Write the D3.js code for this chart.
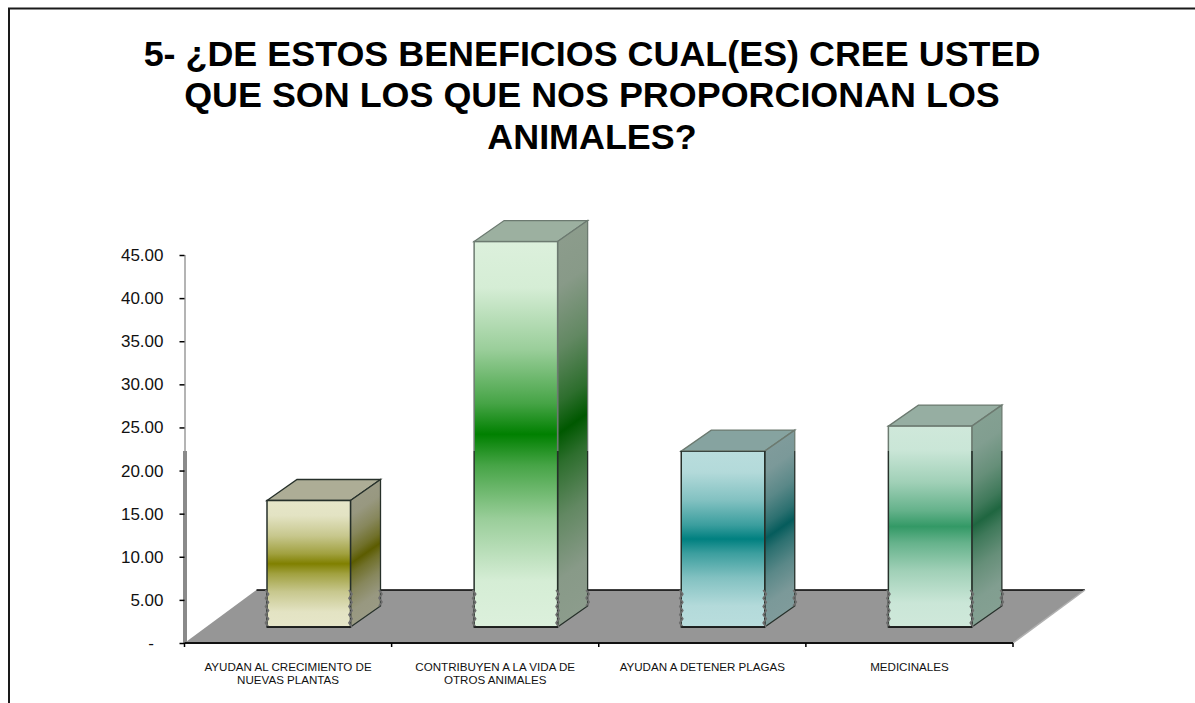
<!DOCTYPE html>
<html>
<head>
<meta charset="utf-8">
<script src="https://cdn.jsdelivr.net/npm/d3@7/dist/d3.min.js"></script>
<style>
html,body{margin:0;padding:0;background:#fff}
svg{display:block;font-family:"Liberation Sans",Arial,sans-serif}
</style>
</head>
<body>
<svg id="chart" width="1195" height="703"></svg>
<script>
// Survey results
const titleLines = [
  "5- ¿DE ESTOS BENEFICIOS CUAL(ES) CREE USTED",
  "QUE SON LOS QUE NOS PROPORCIONAN LOS",
  "ANIMALES?"
];
const categories = [
  ["AYUDAN AL CRECIMIENTO DE", "NUEVAS PLANTAS"],
  ["CONTRIBUYEN A LA VIDA DE", "OTROS ANIMALES"],
  ["AYUDAN A DETENER PLAGAS"],
  ["MEDICINALES"]
];
const percentages = [14.67, 44.7, 20.4, 23.3];
const yTicks = [0, 5, 10, 15, 20, 25, 30, 35, 40, 45];

// Face colours per bar
const frontEnds = ["#e6e6c9", "#dcf0dc", "#b9dddd", "#cfe8da"];
const frontMids = ["#808000", "#008000", "#008080", "#339966"];
const sideEnds  = ["#9a9a84", "#8c9c8c", "#7f9b9b", "#84a092"];
const sideMids  = ["#5c5c00", "#005800", "#055c5c", "#1f6640"];
const topFaces  = ["#adad96", "#9cb0a0", "#86a3a0", "#96aea2"];

const svg = d3.select("#chart");
const defs = svg.append("defs");

const axisLeftX = 184.5, axisRightX = 1013;
const zeroY = 643, topY = 255;
const floorDX = 72, floorDY = 53;
const barDX = 30, barDY = 21, barW = 83.5, barInset = 82.5, barLift = 16;
const seamY = 451;

const x = d3.scaleBand().domain(d3.range(categories.length)).range([axisLeftX, axisRightX]);
const y = d3.scaleLinear().domain([0, 45]).range([zeroY, topY]);

// Frame: left and top rules only
svg.append("path").attr("d", "M9,703V8.5H1195").attr("fill", "none")
  .attr("stroke", "#1a1a1a").attr("stroke-width", 2);

// Title
svg.append("g").selectAll("text").data(titleLines).join("text")
  .attr("x", 592)
  .attr("y", (d, i) => 66 + i * 41.3)
  .attr("text-anchor", "middle")
  .attr("font-size", 35.9)
  .attr("font-weight", "bold")
  .attr("fill", "#000")
  .text(d => d);

// Wall edge, lighter above the seam and heavier below it
svg.append("rect").attr("x", axisLeftX - 0.5).attr("y", topY).attr("width", 2)
  .attr("height", seamY - topY).attr("fill", "#b4b4b4");
svg.append("rect").attr("x", axisLeftX - 1.5).attr("y", seamY).attr("width", 4)
  .attr("height", zeroY - seamY).attr("fill", "#8a8a8a");

// Floor
const floorBack = zeroY - floorDY;
svg.append("path")
  .attr("d", d3.line()([
    [axisLeftX, zeroY], [axisRightX, zeroY],
    [axisRightX + floorDX, floorBack], [axisLeftX + floorDX, floorBack]
  ]) + "Z")
  .attr("fill", "#969696");
svg.append("line").attr("x1", axisLeftX + floorDX).attr("x2", axisRightX + floorDX)
  .attr("y1", floorBack).attr("y2", floorBack).attr("stroke", "#000").attr("stroke-width", 1.5);
svg.append("line").attr("x1", axisRightX).attr("x2", axisRightX + floorDX)
  .attr("y1", zeroY).attr("y2", floorBack).attr("stroke", "#b0b0b0").attr("stroke-width", 1.5);

// Axes; zero prints as a dash set further left, as an accounting format does
const yAxis = d3.axisLeft(y).tickValues(yTicks).tickSize(5).tickPadding(16)
  .tickFormat(d => d === 0 ? "-" : d3.format(".2f")(d));
const gy = svg.append("g").attr("transform", `translate(${axisLeftX},0)`).call(yAxis);
gy.select(".domain").remove();
gy.selectAll(".tick line").attr("stroke", "#000").attr("stroke-width", 1.5);
gy.selectAll("text").attr("font-size", 17).attr("font-family", "'Liberation Sans',Arial,sans-serif")
  .attr("fill", "#111");
gy.selectAll(".tick").filter(d => d === 0).select("text").attr("x", -30.5);

const boundaries = x.domain().map(i => x(i)).concat(axisRightX);
svg.append("line").attr("x1", axisLeftX).attr("x2", axisRightX).attr("y1", zeroY).attr("y2", zeroY)
  .attr("stroke", "#111").attr("stroke-width", 2);
svg.append("g").selectAll("line").data(boundaries).join("line")
  .attr("x1", d => d).attr("x2", d => d)
  .attr("y1", zeroY).attr("y2", zeroY + 4)
  .attr("stroke", "#000").attr("stroke-width", 1.5);

// Category labels
const labels = svg.append("g").selectAll("text").data(categories).join("text")
  .attr("text-anchor", "middle").attr("font-size", 11.6).attr("fill", "#111");
labels.each(function (lines, i) {
  d3.select(this).selectAll("tspan").data(lines).join("tspan")
    .attr("x", x(i) + x.bandwidth() / 2)
    .attr("y", (d, j) => 671 + j * 12.7)
    .text(d => d);
});

// Gradient shared by bar faces: light ends, saturated middle
function addStops(g, light, mid) {
  const mix = d3.interpolateRgb(light, mid);
  [[0, 0], [0.12, 0.03], [0.28, 0.3], [0.42, 0.68], [0.5, 1],
   [0.58, 0.68], [0.72, 0.3], [0.88, 0.03], [1, 0]].forEach(([o, t]) => {
    g.append("stop").attr("offset", o).attr("stop-color", mix(t));
  });
}

// Outline colour changes at the seam
const edge = defs.append("linearGradient").attr("id", "edge")
  .attr("gradientUnits", "userSpaceOnUse")
  .attr("x1", 0).attr("x2", 0).attr("y1", 0).attr("y2", 703);
[[0, "#6c7a70"], [seamY / 703, "#6c7a70"], [seamY / 703, "#26302a"], [1, "#26302a"]]
  .forEach(([o, c]) => edge.append("stop").attr("offset", o).attr("stop-color", c));

// Short zigzag along a vertical edge where it meets the floor
function zigzag(px, y0, y1) {
  const n = Math.round((y1 - y0) / 4);
  return d3.line()(d3.range(n + 1).map(k => [px + (k % 2 ? 1.5 : -1.5), y0 + k * (y1 - y0) / n]));
}

const bars = svg.append("g").selectAll("g").data(percentages).join("g");
bars.each(function (v, i) {
  const g = d3.select(this);
  const x0 = x(i) + barInset, x1 = x0 + barW;
  const bottom = y(0) - barLift;
  const top = y(v) - barLift;

  const fg = defs.append("linearGradient").attr("id", `front${i}`)
    .attr("gradientUnits", "userSpaceOnUse")
    .attr("x1", 0).attr("x2", 0).attr("y1", top).attr("y2", bottom);
  addStops(fg, frontEnds[i], frontMids[i]);

  // Side-face bands run parallel to the bar's depth edge
  const slope = -barDY / barDX;
  const sg = defs.append("linearGradient").attr("id", `side${i}`)
    .attr("gradientUnits", "userSpaceOnUse")
    .attr("x1", 0).attr("x2", 0).attr("y1", top).attr("y2", bottom)
    .attr("gradientTransform", `matrix(1,${slope},0,1,0,${-slope * x1})`);
  addStops(sg, sideEnds[i], sideMids[i]);

  const stroke = "url(#edge)";
  g.append("path")
    .attr("d", d3.line()([[x0, top], [x0 + barDX, top - barDY], [x1 + barDX, top - barDY], [x1, top]]) + "Z")
    .attr("fill", topFaces[i]).attr("stroke", stroke).attr("stroke-width", 1.3);
  g.append("path")
    .attr("d", d3.line()([[x1, top], [x1 + barDX, top - barDY], [x1 + barDX, bottom - barDY], [x1, bottom]]) + "Z")
    .attr("fill", `url(#side${i})`).attr("stroke", stroke).attr("stroke-width", 1.3);
  g.append("rect")
    .attr("x", x0).attr("y", top).attr("width", barW).attr("height", bottom - top)
    .attr("fill", `url(#front${i})`).attr("stroke", stroke).attr("stroke-width", 1.5);

  // Frayed edges below the floor line
  [[x0, bottom], [x1, bottom], [x1 + barDX, bottom - barDY]].forEach(([px, end]) => {
    g.append("path").attr("d", zigzag(px, floorBack, end)).attr("fill", "none")
      .attr("stroke", "#6e6e6e").attr("stroke-width", 1.8).attr("stroke-linejoin", "round");
  });
  g.append("line").attr("x1", x0).attr("x2", x1).attr("y1", bottom).attr("y2", bottom)
    .attr("stroke", "#111").attr("stroke-width", 1.5);
});
</script>
</body>
</html>
